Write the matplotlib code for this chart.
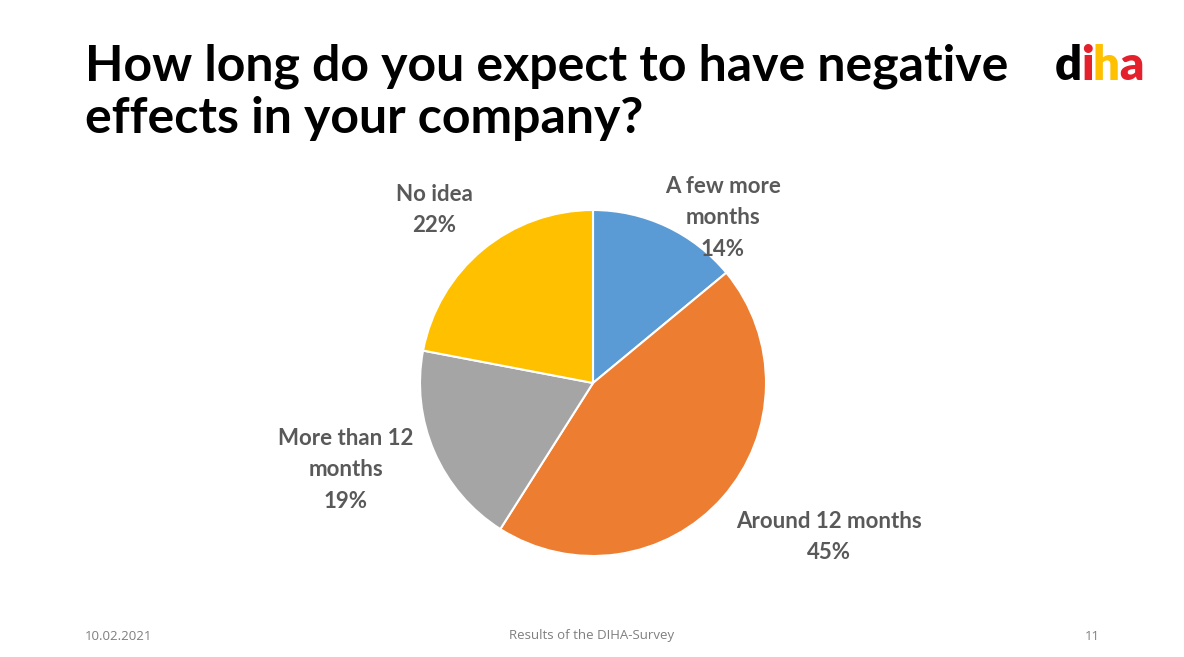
import matplotlib.pyplot as plt

categories = ["A few more\nmonths", "Around 12 months", "More than 12\nmonths", "No idea"]
shares = [14, 45, 19, 22]
colors = ["#5B9BD5", "#ED7D31", "#A5A5A5", "#FFC000"]

# label centres, in figure pixels (x, y from top)
label_pos = [(723, 218), (829, 537), (346, 470), (434, 210)]

W, H = 1184, 657
fig = plt.figure(figsize=(W / 100, H / 100), dpi=100)
fig.patch.set_facecolor("white")

# pie: centre (593, 383), radius 173 px
cx, cy, r = 593, 383, 173
ax = fig.add_axes([(cx - r) / W, (H - cy - r) / H, 2 * r / W, 2 * r / H])
ax.pie(shares, colors=colors, startangle=90, counterclock=False,
       wedgeprops=dict(edgecolor="white", linewidth=1.5))
ax.set_xlim(-1, 1)
ax.set_ylim(-1, 1)
ax.set_aspect("equal")
ax.axis("off")

for cat, val, (px, py) in zip(categories, shares, label_pos):
    fig.text(px / W, 1 - py / H, f"{cat}\n{val}%", ha="center", va="center",
             fontsize=16, fontweight="bold", color="#595959", family="Lato",
             linespacing=1.6)

# title
fig.text(85 / W, 1 - 92 / H, "How long do you expect to have negative\neffects in your company?",
         ha="left", va="center", fontsize=36, fontweight="bold", family="Lato",
         color="black", linespacing=1.2)

# logo, letters placed one after the other
renderer = fig.canvas.get_renderer()
x0 = 1055
for ch, col in zip("diha", ["black", "#E3202B", "#FFC000", "#E3202B"]):
    t = fig.text(x0 / W, 1 - 80 / H, ch, ha="left", va="baseline", fontsize=34,
                 fontweight="heavy", family="Lato", color=col)
    x0 += t.get_window_extent(renderer).width - 1

# footer
fig.text(85 / W, 1 - 636 / H, "10.02.2021", ha="left", va="center", fontsize=9.5,
         color="#7F7F7F", family="Open Sans")
fig.text(592 / W, 1 - 636 / H, "Results of the DIHA-Survey", ha="center", va="center",
         fontsize=9.5, color="#7F7F7F", family="Open Sans")
fig.text(1100 / W, 1 - 636 / H, "11", ha="right", va="center", fontsize=9.5,
         color="#7F7F7F", family="Open Sans")

fig.savefig("out.png", dpi=100)
